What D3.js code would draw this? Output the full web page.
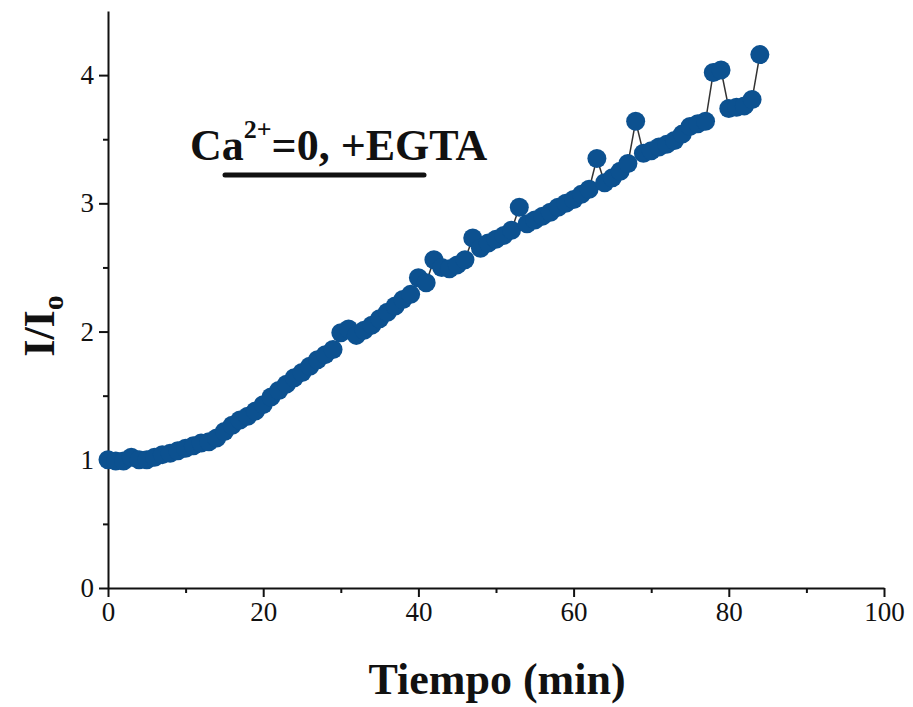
<!DOCTYPE html>
<html>
<head>
<meta charset="utf-8">
<script src="https://cdn.jsdelivr.net/npm/d3@7"></script>
<style>
  body { margin: 0; background: #fff; }
  text { font-family: "Liberation Serif", "Times New Roman", serif; fill: #111; }
</style>
</head>
<body>
<div id="chart"></div>
<script>
// time in minutes, one reading per minute
const tiempo = d3.range(0, 85);
const ratio = [
  1.00, 0.99, 0.99, 1.02, 1.00, 1.00, 1.02, 1.04, 1.05, 1.07,
  1.09, 1.11, 1.13, 1.14, 1.17, 1.22, 1.27, 1.31, 1.34, 1.38,
  1.43, 1.49, 1.54, 1.59, 1.64, 1.68, 1.73, 1.78, 1.82, 1.86,
  1.99, 2.02, 1.97, 2.01, 2.05, 2.10, 2.15, 2.20, 2.25, 2.29,
  2.42, 2.38, 2.56, 2.50, 2.49, 2.52, 2.56, 2.73, 2.65, 2.69,
  2.72, 2.75, 2.79, 2.97, 2.84, 2.87, 2.90, 2.93, 2.97, 3.00,
  3.03, 3.07, 3.11, 3.35, 3.16, 3.20, 3.25, 3.31, 3.64, 3.39,
  3.41, 3.44, 3.46, 3.49, 3.54, 3.60, 3.62, 3.64, 4.02, 4.04,
  3.74, 3.75, 3.76, 3.81, 4.16
];
const xTicks = [0, 20, 40, 60, 80, 100];
const xMinor = [10, 30, 50, 70, 90];
const yTicks = [0, 1, 2, 3, 4];
const yMinor = [0.5, 1.5, 2.5, 3.5];

(function () {
    const w = 913, h = 707;
    const x0 = 108, x1 = 884, yTop = 11, yBottom = 588;
    const serif = "Liberation Serif, Times New Roman, serif";

    const svg = d3.select("#chart").append("svg")
        .attr("width", w)
        .attr("height", h);

    const x = d3.scaleLinear().domain([0, 100]).range([x0, x1]);
    const y = d3.scaleLinear().domain([0, 4.5]).range([yBottom, yTop]);

    const data = tiempo.map((t, i) => ({ t: t, v: ratio[i] }));

    // minor ticks
    svg.append("g")
        .attr("transform", `translate(0,${yBottom})`)
        .call(d3.axisBottom(x).tickValues(xMinor).tickSize(5).tickFormat(""))
        .call(g => g.select(".domain").remove())
        .call(g => g.selectAll("line").attr("stroke", "#111").attr("stroke-width", 2));
    svg.append("g")
        .attr("transform", `translate(${x0},0)`)
        .call(d3.axisLeft(y).tickValues(yMinor).tickSize(5).tickFormat(""))
        .call(g => g.select(".domain").remove())
        .call(g => g.selectAll("line").attr("stroke", "#111").attr("stroke-width", 2));

    // major axes
    svg.append("g")
        .attr("transform", `translate(0,${yBottom})`)
        .call(d3.axisBottom(x).tickValues(xTicks).tickFormat(d3.format("d"))
            .tickSize(9).tickSizeOuter(0).tickPadding(5))
        .call(g => g.select(".domain").attr("stroke", "#111").attr("stroke-width", 2))
        .call(g => g.selectAll("line").attr("stroke", "#111").attr("stroke-width", 2))
        .call(g => g.selectAll("text").attr("font-size", 27)
            .attr("font-family", serif).attr("fill", "#111"));

    svg.append("g")
        .attr("transform", `translate(${x0},0)`)
        .call(d3.axisLeft(y).tickValues(yTicks).tickFormat(d3.format("d"))
            .tickSize(9).tickSizeOuter(0).tickPadding(5))
        .call(g => g.select(".domain").attr("stroke", "#111").attr("stroke-width", 2))
        .call(g => g.selectAll("line").attr("stroke", "#111").attr("stroke-width", 2))
        .call(g => g.selectAll("text").attr("font-size", 27)
            .attr("font-family", serif).attr("fill", "#111"));

    // connecting line under the markers
    const line = d3.line().x(d => x(d.t)).y(d => y(d.v));
    svg.append("path")
        .datum(data)
        .attr("fill", "none")
        .attr("stroke", "#333")
        .attr("stroke-width", 1.5)
        .attr("d", line);

    svg.selectAll("circle.pt")
        .data(data)
        .enter()
        .append("circle")
        .attr("class", "pt")
        .attr("cx", d => x(d.t))
        .attr("cy", d => y(d.v))
        .attr("r", 9.5)
        .attr("fill", "#0c5190");

    // axis titles
    svg.append("text")
        .attr("x", 497)
        .attr("y", 694)
        .attr("text-anchor", "middle")
        .attr("font-size", 44)
        .attr("font-weight", "bold")
        .text("Tiempo (min)");

    const yl = svg.append("text")
        .attr("transform", "translate(54,326) rotate(-90)")
        .attr("text-anchor", "middle")
        .attr("font-size", 44)
        .attr("font-weight", "bold");
    yl.append("tspan").text("I/I");
    yl.append("tspan").attr("font-size", 30).attr("dy", 9).text("o");

    // annotation
    const note = svg.append("text")
        .attr("x", 190)
        .attr("y", 160)
        .attr("font-size", 44)
        .attr("font-weight", "bold");
    note.append("tspan").text("Ca");
    note.append("tspan").attr("font-size", 26).attr("dy", -22).text("2+");
    note.append("tspan").attr("dy", 22).text("=0, +EGTA");

    svg.append("line")
        .attr("x1", 225).attr("x2", 424)
        .attr("y1", 175).attr("y2", 175)
        .attr("stroke", "#111")
        .attr("stroke-width", 5)
        .attr("stroke-linecap", "round");
})();
</script>
</body>
</html>
